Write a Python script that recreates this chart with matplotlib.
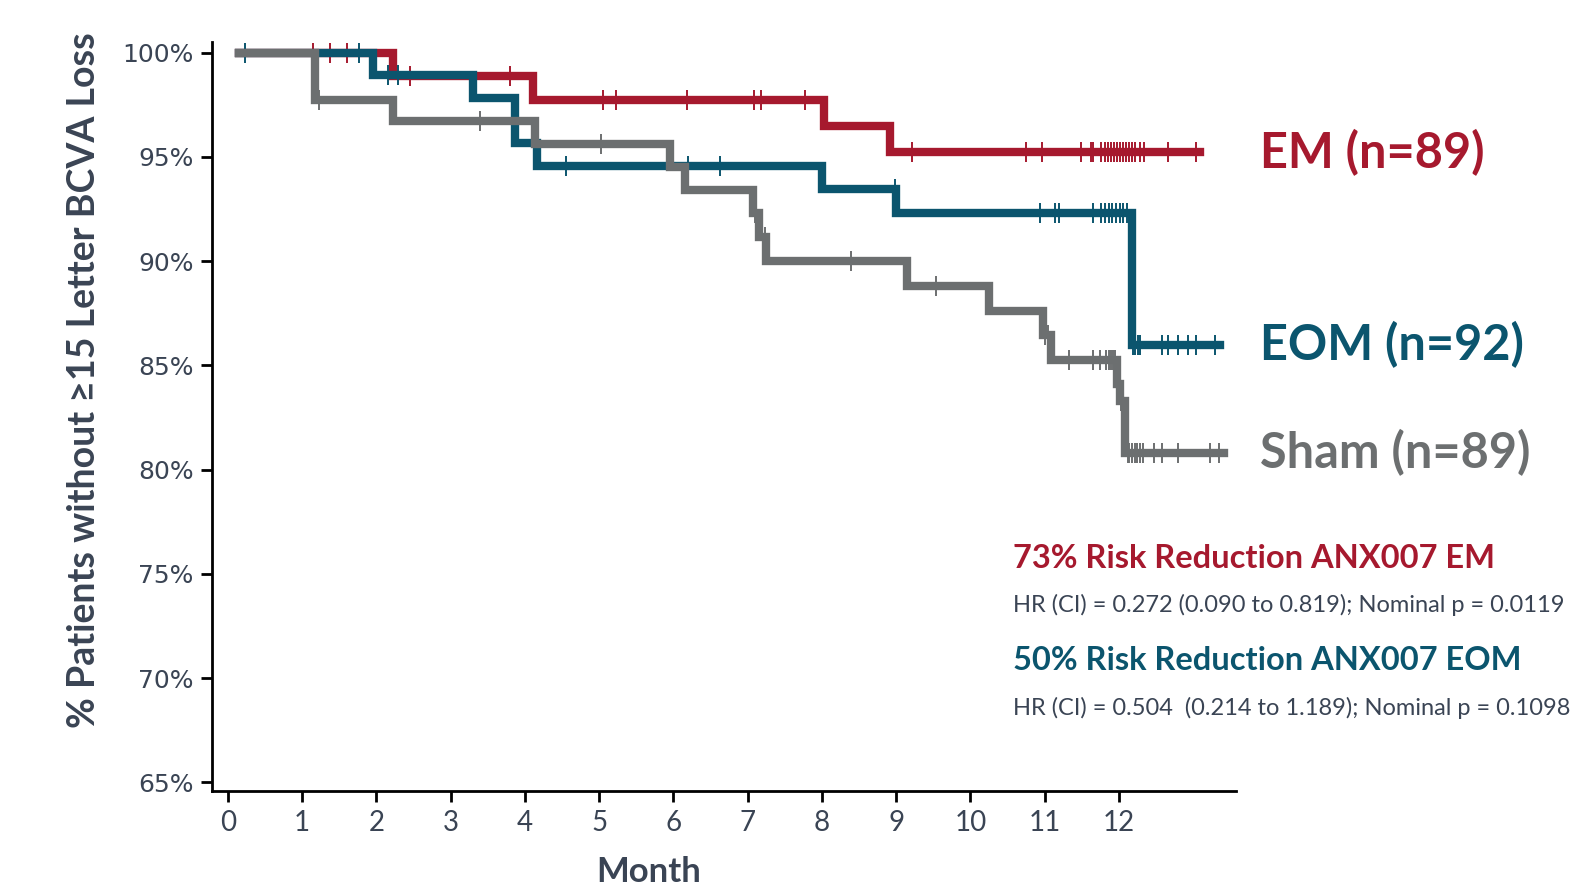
import numpy as np
import matplotlib.pyplot as plt

plt.rcParams['font.family'] = ['Lato', 'DejaVu Sans']

# colours
c_em = '#A6192E'
c_eom = '#0B556E'
c_sham = '#6C6F70'
c_txt = '#3A4454'

# Kaplan-Meier steps (months, % without loss)
em_t = [0.15, 2.22, 4.11, 8.03, 8.92]
em_s = [100, 98.88, 97.75, 96.50, 95.22]
em_end = 13.09
em_cens = [1.15, 1.37, 1.60, 2.45, 3.80, 5.05, 5.23, 6.18, 7.08, 7.18, 7.77,
           9.21, 10.75, 10.96, 11.49, 11.62, 11.65, 11.76, 11.81, 11.85, 11.89,
           11.93, 11.97, 12.01, 12.05, 12.09, 12.13, 12.18, 12.22, 12.28, 12.34,
           12.66, 13.04]

eom_t = [0.15, 1.96, 3.30, 3.87, 4.16, 8.00, 9.00, 12.17]
eom_s = [100, 98.91, 97.83, 95.65, 94.56, 93.44, 92.29, 86.0]
eom_end = 13.36
eom_cens = [0.23, 1.76, 2.16, 2.29, 4.56, 6.20, 6.63, 8.98, 10.94, 11.14, 11.19,
            11.65, 11.76, 11.81, 11.86, 11.91, 11.96, 12.01, 12.06, 12.11,
            12.19, 12.22, 12.25, 12.29, 12.58, 12.66, 12.80, 12.93, 13.04, 13.29]

sham_t = [0.15, 1.17, 2.22, 4.13, 5.95, 6.15, 7.07, 7.15, 7.25, 9.14, 10.25,
          10.98, 11.09, 11.97, 12.01, 12.08]
sham_s = [100, 97.75, 96.72, 95.64, 94.52, 93.42, 92.31, 91.16, 90.03, 88.81,
          87.63, 86.45, 85.25, 84.10, 83.30, 80.8]
sham_end = 13.41
sham_cens = [1.23, 3.39, 5.03, 7.10, 7.23, 8.39, 9.54, 11.00, 11.05, 11.33,
             11.65, 11.74, 11.83, 11.86, 11.89, 11.92, 11.95, 11.99, 12.03,
             12.06, 12.12, 12.14, 12.17, 12.21, 12.24, 12.28, 12.32, 12.47,
             12.58, 12.80, 13.23, 13.35]

months = list(range(13))
yticks = [65, 70, 75, 80, 85, 90, 95, 100]

series = [
    ('EM (n=89)', em_t, em_s, em_end, em_cens, c_em),
    ('EOM (n=92)', eom_t, eom_s, eom_end, eom_cens, c_eom),
    ('Sham (n=89)', sham_t, sham_s, sham_end, sham_cens, c_sham),
]

fig = plt.figure(figsize=(15.78, 8.94), dpi=100)
ax = fig.add_axes([0.1343, 0.1152, 0.6489, 0.8378])

for i, (name, t, s, end, cens, col) in enumerate(series):
    x = list(t) + [end]
    y = list(s) + [s[-1]]
    ax.step(x, y, where='post', color=col, lw=6, zorder=2 + i,
            solid_joinstyle='miter')
    idx = np.searchsorted(t, cens, side='right') - 1
    cy = np.array(s)[idx]
    ax.plot(cens, cy, ls='none', marker='|', ms=15, mew=1.4, color=col,
            zorder=2 + i)
    ax.text(1.0234, s[-1], name, transform=ax.get_yaxis_transform(),
            color=col, fontsize=35, fontweight='bold', va='center', ha='left')

ax.set_xlim(-0.215, 13.575)
ax.set_ylim(64.59, 100.51)
ax.set_xticks(months)
ax.set_xticklabels([str(m) for m in months], fontsize=20, color=c_txt)
ax.set_yticks(yticks)
ax.set_yticklabels([f'{v}%' for v in yticks], fontsize=18, color=c_txt,
                   family='DejaVu Sans')
ax.tick_params(axis='both', direction='out', length=8, width=2, color='black')
ax.tick_params(axis='x', pad=6)
ax.tick_params(axis='y', pad=5)
for sp in ['top', 'right']:
    ax.spines[sp].set_visible(False)
for sp in ['left', 'bottom']:
    ax.spines[sp].set_linewidth(2)
    ax.spines[sp].set_color('black')

fig.text(84 / 1578, 1 - 380 / 894, '% Patients without \u226515 Letter BCVA Loss',
         rotation=90, ha='center', va='center', fontsize=27,
         fontweight='bold', color=c_txt)
fig.text(649 / 1578, 1 - 872 / 894, 'Month', ha='center', va='center',
         fontsize=25, fontweight='bold', color=c_txt)

fig.text(1013 / 1578, 1 - 559 / 894, '73% Risk Reduction ANX007 EM',
         ha='left', va='center', fontsize=23.5, fontweight='bold', color=c_em)
fig.text(1013 / 1578, 1 - 605 / 894,
         'HR (CI) = 0.272 (0.090 to 0.819); Nominal p = 0.0119',
         ha='left', va='center', fontsize=17, color=c_txt)
fig.text(1013 / 1578, 1 - 661 / 894, '50% Risk Reduction ANX007 EOM',
         ha='left', va='center', fontsize=23.5, fontweight='bold', color=c_eom)
fig.text(1013 / 1578, 1 - 708 / 894,
         'HR (CI) = 0.504  (0.214 to 1.189); Nominal p = 0.1098',
         ha='left', va='center', fontsize=17, color=c_txt)

fig.savefig('out.png', dpi=100)
